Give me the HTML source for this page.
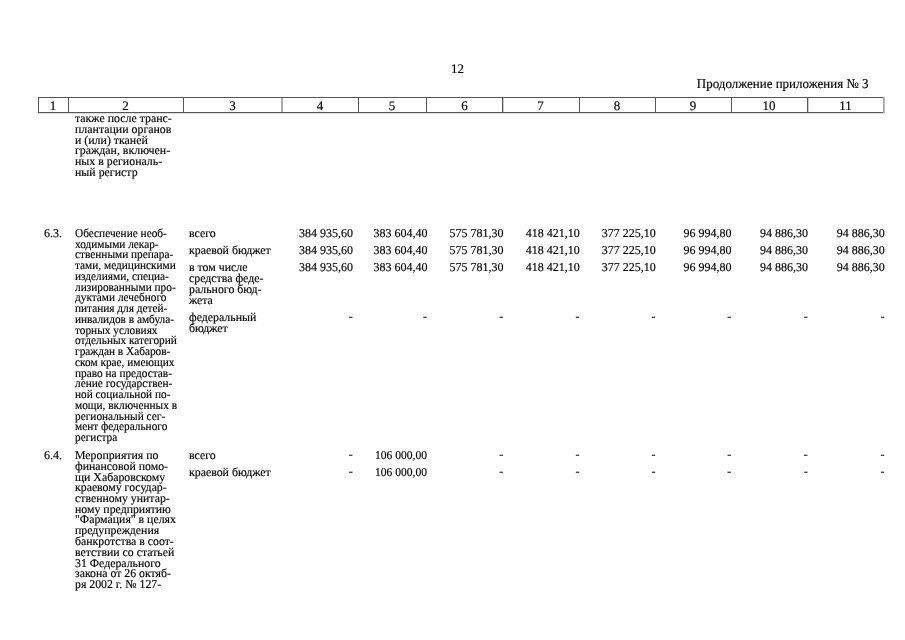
<!DOCTYPE html>
<html><head><meta charset="utf-8"><style>
html,body{margin:0;padding:0;background:#fff;width:905px;height:640px;overflow:hidden;position:relative}
body{filter:grayscale(1)}
.t{position:absolute;white-space:pre;font-family:"Liberation Serif",serif;color:#000;line-height:14px;text-rendering:geometricPrecision;-webkit-text-stroke:0.15px #000}
.c{text-align:center}
.h{position:absolute;height:1px}
.v{position:absolute;width:1px}
</style></head><body>
<div class="t c" style="left:357.50px;width:200px;top:62px;font-size:13px;">12</div>
<div class="t" style="right:36.70px;top:77px;font-size:13.5px;transform:scaleX(0.962);transform-origin:100% 0;">Продолжение приложения № 3</div>
<div class="t c" style="left:-47.00px;width:200px;top:99px;font-size:13px;">1</div>
<div class="t c" style="left:25.50px;width:200px;top:99px;font-size:13px;">2</div>
<div class="t c" style="left:132.50px;width:200px;top:99px;font-size:13px;">3</div>
<div class="t c" style="left:220.00px;width:200px;top:99px;font-size:13px;">4</div>
<div class="t c" style="left:292.00px;width:200px;top:99px;font-size:13px;">5</div>
<div class="t c" style="left:364.50px;width:200px;top:99px;font-size:13px;">6</div>
<div class="t c" style="left:440.50px;width:200px;top:99px;font-size:13px;">7</div>
<div class="t c" style="left:517.00px;width:200px;top:99px;font-size:13px;">8</div>
<div class="t c" style="left:593.00px;width:200px;top:99px;font-size:13px;">9</div>
<div class="t c" style="left:669.00px;width:200px;top:99px;font-size:13px;">10</div>
<div class="t c" style="left:745.50px;width:200px;top:99px;font-size:13px;">11</div>
<div class="h" style="left:38px;top:97px;width:847px;background:#555"></div>
<div class="h" style="left:38px;top:112px;width:847px;background:#555"></div>
<div class="h" style="left:38px;top:113px;width:847px;background:#ddd"></div>
<div class="v" style="left:38px;top:97px;height:16px;background:#555"></div>
<div class="v" style="left:68px;top:97px;height:16px;background:#555"></div>
<div class="v" style="left:183px;top:97px;height:16px;background:#555"></div>
<div class="v" style="left:358px;top:97px;height:16px;background:#555"></div>
<div class="v" style="left:426px;top:97px;height:16px;background:#555"></div>
<div class="v" style="left:502px;top:97px;height:16px;background:#555"></div>
<div class="v" style="left:579px;top:97px;height:16px;background:#555"></div>
<div class="v" style="left:655px;top:97px;height:16px;background:#555"></div>
<div class="v" style="left:731px;top:97px;height:16px;background:#555"></div>
<div class="v" style="left:807px;top:97px;height:16px;background:#555"></div>
<div class="v" style="left:281px;top:98px;height:14px;background:#aaa"></div>
<div class="v" style="left:282px;top:98px;height:14px;background:#aaa"></div>
<div class="v" style="left:503px;top:98px;height:14px;background:#ccc"></div>
<div class="v" style="left:808px;top:98px;height:14px;background:#ccc"></div>
<div class="v" style="left:883px;top:97px;height:16px;background:#a8a8a8"></div>
<div class="v" style="left:884px;top:97px;height:16px;background:#b8b8b8"></div>
<div class="t" style="left:74.80px;top:111px;font-size:12px;transform:scaleX(0.989);transform-origin:0 0;">также после транс-</div>
<div class="t" style="left:74.80px;top:122px;font-size:12px;transform:scaleX(0.989);transform-origin:0 0;">плантации органов</div>
<div class="t" style="left:74.80px;top:133px;font-size:12px;transform:scaleX(0.989);transform-origin:0 0;">и (или) тканей</div>
<div class="t" style="left:74.80px;top:143px;font-size:12px;transform:scaleX(0.989);transform-origin:0 0;">граждан, включен-</div>
<div class="t" style="left:74.80px;top:154px;font-size:12px;transform:scaleX(0.989);transform-origin:0 0;">ных в региональ-</div>
<div class="t" style="left:74.80px;top:165px;font-size:12px;transform:scaleX(0.989);transform-origin:0 0;">ный регистр</div>
<div class="t" style="left:44.10px;top:226px;font-size:12px;transform-origin:0 0;">6.3.</div>
<div class="t" style="left:74.80px;top:226px;font-size:12px;transform:scaleX(0.943);transform-origin:0 0;">Обеспечение необ-</div>
<div class="t" style="left:74.80px;top:237px;font-size:12px;transform:scaleX(0.943);transform-origin:0 0;">ходимыми лекар-</div>
<div class="t" style="left:74.80px;top:247px;font-size:12px;transform:scaleX(0.943);transform-origin:0 0;">ственными препара-</div>
<div class="t" style="left:74.80px;top:258px;font-size:12px;transform:scaleX(0.943);transform-origin:0 0;">тами, медицинскими</div>
<div class="t" style="left:74.80px;top:269px;font-size:12px;transform:scaleX(0.943);transform-origin:0 0;">изделиями, специа-</div>
<div class="t" style="left:74.80px;top:280px;font-size:12px;transform:scaleX(0.943);transform-origin:0 0;">лизированными про-</div>
<div class="t" style="left:74.80px;top:290px;font-size:12px;transform:scaleX(0.943);transform-origin:0 0;">дуктами лечебного</div>
<div class="t" style="left:74.80px;top:301px;font-size:12px;transform:scaleX(0.943);transform-origin:0 0;">питания для детей-</div>
<div class="t" style="left:74.80px;top:312px;font-size:12px;transform:scaleX(0.943);transform-origin:0 0;">инвалидов в амбула-</div>
<div class="t" style="left:74.80px;top:323px;font-size:12px;transform:scaleX(0.943);transform-origin:0 0;">торных условиях</div>
<div class="t" style="left:74.80px;top:333px;font-size:12px;transform:scaleX(0.943);transform-origin:0 0;">отдельных категорий</div>
<div class="t" style="left:74.80px;top:344px;font-size:12px;transform:scaleX(0.943);transform-origin:0 0;">граждан в Хабаров-</div>
<div class="t" style="left:74.80px;top:355px;font-size:12px;transform:scaleX(0.943);transform-origin:0 0;">ском крае, имеющих</div>
<div class="t" style="left:74.80px;top:366px;font-size:12px;transform:scaleX(0.943);transform-origin:0 0;">право на предостав-</div>
<div class="t" style="left:74.80px;top:376px;font-size:12px;transform:scaleX(0.943);transform-origin:0 0;">ление государствен-</div>
<div class="t" style="left:74.80px;top:387px;font-size:12px;transform:scaleX(0.943);transform-origin:0 0;">ной социальной по-</div>
<div class="t" style="left:74.80px;top:398px;font-size:12px;transform:scaleX(0.943);transform-origin:0 0;">мощи, включенных в</div>
<div class="t" style="left:74.80px;top:409px;font-size:12px;transform:scaleX(0.943);transform-origin:0 0;">региональный сег-</div>
<div class="t" style="left:74.80px;top:419px;font-size:12px;transform:scaleX(0.943);transform-origin:0 0;">мент федерального</div>
<div class="t" style="left:74.80px;top:430px;font-size:12px;transform:scaleX(0.943);transform-origin:0 0;">регистра</div>
<div class="t" style="left:189.00px;top:226px;font-size:12px;transform:scaleX(0.987);transform-origin:0 0;">всего</div>
<div class="t" style="left:189.00px;top:243px;font-size:12px;transform:scaleX(0.987);transform-origin:0 0;">краевой бюджет</div>
<div class="t" style="left:189.00px;top:260px;font-size:12px;transform:scaleX(0.987);transform-origin:0 0;">в том числе</div>
<div class="t" style="left:189.00px;top:271px;font-size:12px;transform:scaleX(0.987);transform-origin:0 0;">средства феде-</div>
<div class="t" style="left:189.00px;top:282px;font-size:12px;transform:scaleX(0.987);transform-origin:0 0;">рального бюд-</div>
<div class="t" style="left:189.00px;top:293px;font-size:12px;transform:scaleX(0.987);transform-origin:0 0;">жета</div>
<div class="t" style="left:189.00px;top:310px;font-size:12px;transform:scaleX(0.987);transform-origin:0 0;">федеральный</div>
<div class="t" style="left:189.00px;top:321px;font-size:12px;transform:scaleX(0.987);transform-origin:0 0;">бюджет</div>
<div class="t" style="right:552.00px;top:226px;font-size:12px;transform-origin:100% 0;">384 935,60</div>
<div class="t" style="right:477.60px;top:226px;font-size:12px;transform-origin:100% 0;">383 604,40</div>
<div class="t" style="right:401.50px;top:226px;font-size:12px;transform-origin:100% 0;">575 781,30</div>
<div class="t" style="right:325.30px;top:226px;font-size:12px;transform-origin:100% 0;">418 421,10</div>
<div class="t" style="right:249.20px;top:226px;font-size:12px;transform-origin:100% 0;">377 225,10</div>
<div class="t" style="right:173.50px;top:226px;font-size:12px;transform-origin:100% 0;">96 994,80</div>
<div class="t" style="right:97.00px;top:226px;font-size:12px;transform-origin:100% 0;">94 886,30</div>
<div class="t" style="right:20.30px;top:226px;font-size:12px;transform-origin:100% 0;">94 886,30</div>
<div class="t" style="right:552.00px;top:243px;font-size:12px;transform-origin:100% 0;">384 935,60</div>
<div class="t" style="right:477.60px;top:243px;font-size:12px;transform-origin:100% 0;">383 604,40</div>
<div class="t" style="right:401.50px;top:243px;font-size:12px;transform-origin:100% 0;">575 781,30</div>
<div class="t" style="right:325.30px;top:243px;font-size:12px;transform-origin:100% 0;">418 421,10</div>
<div class="t" style="right:249.20px;top:243px;font-size:12px;transform-origin:100% 0;">377 225,10</div>
<div class="t" style="right:173.50px;top:243px;font-size:12px;transform-origin:100% 0;">96 994,80</div>
<div class="t" style="right:97.00px;top:243px;font-size:12px;transform-origin:100% 0;">94 886,30</div>
<div class="t" style="right:20.30px;top:243px;font-size:12px;transform-origin:100% 0;">94 886,30</div>
<div class="t" style="right:552.00px;top:260px;font-size:12px;transform-origin:100% 0;">384 935,60</div>
<div class="t" style="right:477.60px;top:260px;font-size:12px;transform-origin:100% 0;">383 604,40</div>
<div class="t" style="right:401.50px;top:260px;font-size:12px;transform-origin:100% 0;">575 781,30</div>
<div class="t" style="right:325.30px;top:260px;font-size:12px;transform-origin:100% 0;">418 421,10</div>
<div class="t" style="right:249.20px;top:260px;font-size:12px;transform-origin:100% 0;">377 225,10</div>
<div class="t" style="right:173.50px;top:260px;font-size:12px;transform-origin:100% 0;">96 994,80</div>
<div class="t" style="right:97.00px;top:260px;font-size:12px;transform-origin:100% 0;">94 886,30</div>
<div class="t" style="right:20.30px;top:260px;font-size:12px;transform-origin:100% 0;">94 886,30</div>
<div class="t" style="right:552.30px;top:309px;font-size:12px;transform-origin:100% 0;">-</div>
<div class="t" style="right:477.90px;top:309px;font-size:12px;transform-origin:100% 0;">-</div>
<div class="t" style="right:401.80px;top:309px;font-size:12px;transform-origin:100% 0;">-</div>
<div class="t" style="right:325.60px;top:309px;font-size:12px;transform-origin:100% 0;">-</div>
<div class="t" style="right:249.50px;top:309px;font-size:12px;transform-origin:100% 0;">-</div>
<div class="t" style="right:173.80px;top:309px;font-size:12px;transform-origin:100% 0;">-</div>
<div class="t" style="right:97.30px;top:309px;font-size:12px;transform-origin:100% 0;">-</div>
<div class="t" style="right:20.60px;top:309px;font-size:12px;transform-origin:100% 0;">-</div>
<div class="t" style="left:44.00px;top:448px;font-size:12px;transform-origin:0 0;">6.4.</div>
<div class="t" style="left:74.80px;top:448px;font-size:12px;transform:scaleX(0.984);transform-origin:0 0;">Мероприятия по</div>
<div class="t" style="left:74.80px;top:459px;font-size:12px;transform:scaleX(0.984);transform-origin:0 0;">финансовой помо-</div>
<div class="t" style="left:74.80px;top:470px;font-size:12px;transform:scaleX(0.984);transform-origin:0 0;">щи Хабаровскому</div>
<div class="t" style="left:74.80px;top:480px;font-size:12px;transform:scaleX(0.984);transform-origin:0 0;">краевому государ-</div>
<div class="t" style="left:74.80px;top:491px;font-size:12px;transform:scaleX(0.984);transform-origin:0 0;">ственному унитар-</div>
<div class="t" style="left:74.80px;top:502px;font-size:12px;transform:scaleX(0.984);transform-origin:0 0;">ному предприятию</div>
<div class="t" style="left:74.80px;top:512px;font-size:12px;transform:scaleX(0.984);transform-origin:0 0;">"Фармация" в целях</div>
<div class="t" style="left:74.80px;top:523px;font-size:12px;transform:scaleX(0.984);transform-origin:0 0;">предупреждения</div>
<div class="t" style="left:74.80px;top:534px;font-size:12px;transform:scaleX(0.984);transform-origin:0 0;">банкротства в соот-</div>
<div class="t" style="left:74.80px;top:545px;font-size:12px;transform:scaleX(0.984);transform-origin:0 0;">ветствии со статьей</div>
<div class="t" style="left:74.80px;top:556px;font-size:12px;transform:scaleX(0.984);transform-origin:0 0;">31 Федерального</div>
<div class="t" style="left:74.80px;top:566px;font-size:12px;transform:scaleX(0.984);transform-origin:0 0;">закона от 26 октяб-</div>
<div class="t" style="left:74.80px;top:577px;font-size:12px;transform:scaleX(0.984);transform-origin:0 0;">ря 2002 г. № 127-</div>
<div class="t" style="left:189.00px;top:448px;font-size:12px;transform:scaleX(0.987);transform-origin:0 0;">всего</div>
<div class="t" style="left:189.00px;top:465px;font-size:12px;transform:scaleX(0.987);transform-origin:0 0;">краевой бюджет</div>
<div class="t" style="right:552.30px;top:447px;font-size:12px;transform-origin:100% 0;">-</div>
<div class="t" style="right:477.60px;top:448px;font-size:12px;transform:scaleX(0.962);transform-origin:100% 0;">106 000,00</div>
<div class="t" style="right:401.80px;top:447px;font-size:12px;transform-origin:100% 0;">-</div>
<div class="t" style="right:325.60px;top:447px;font-size:12px;transform-origin:100% 0;">-</div>
<div class="t" style="right:249.50px;top:447px;font-size:12px;transform-origin:100% 0;">-</div>
<div class="t" style="right:173.80px;top:447px;font-size:12px;transform-origin:100% 0;">-</div>
<div class="t" style="right:97.30px;top:447px;font-size:12px;transform-origin:100% 0;">-</div>
<div class="t" style="right:20.60px;top:447px;font-size:12px;transform-origin:100% 0;">-</div>
<div class="t" style="right:552.30px;top:464px;font-size:12px;transform-origin:100% 0;">-</div>
<div class="t" style="right:477.60px;top:465px;font-size:12px;transform:scaleX(0.962);transform-origin:100% 0;">106 000,00</div>
<div class="t" style="right:401.80px;top:464px;font-size:12px;transform-origin:100% 0;">-</div>
<div class="t" style="right:325.60px;top:464px;font-size:12px;transform-origin:100% 0;">-</div>
<div class="t" style="right:249.50px;top:464px;font-size:12px;transform-origin:100% 0;">-</div>
<div class="t" style="right:173.80px;top:464px;font-size:12px;transform-origin:100% 0;">-</div>
<div class="t" style="right:97.30px;top:464px;font-size:12px;transform-origin:100% 0;">-</div>
<div class="t" style="right:20.60px;top:464px;font-size:12px;transform-origin:100% 0;">-</div>
</body></html>
